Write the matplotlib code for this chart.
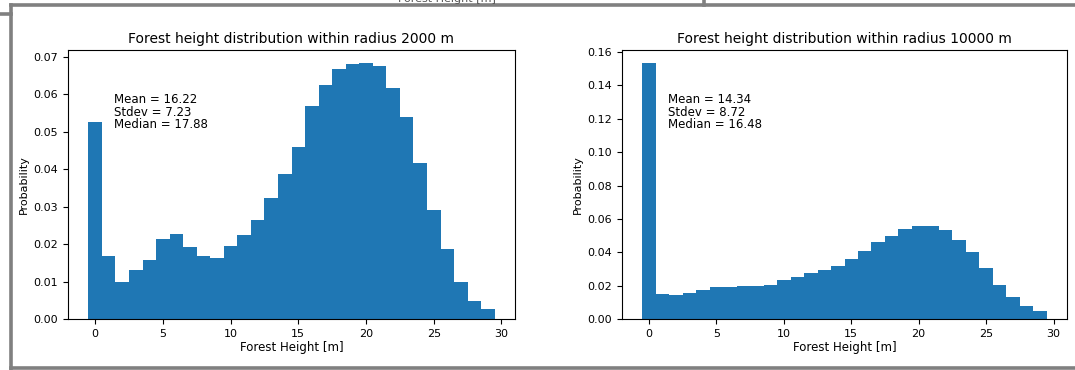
import numpy as np
import matplotlib
matplotlib.use("Agg")
import matplotlib.pyplot as plt
from matplotlib.lines import Line2D

# bin edges shared by both histograms (1 m bins, -0.5 .. 29.5)
bin_edges = np.arange(-0.5, 30.0, 1.0)
bin_centers = np.arange(0, 30)

# probability per bin
prob_2000 = [0.0527, 0.0167, 0.0100, 0.0131, 0.0158, 0.0214, 0.0227, 0.0192, 0.0167, 0.0163,
             0.0195, 0.0225, 0.0265, 0.0324, 0.0386, 0.0458, 0.0568, 0.0625, 0.0667, 0.0681,
             0.0684, 0.0675, 0.0617, 0.0540, 0.0416, 0.0291, 0.0187, 0.0098, 0.0049, 0.0027]
prob_10000 = [0.1536, 0.0152, 0.0146, 0.0156, 0.0176, 0.0192, 0.0192, 0.0196, 0.0200, 0.0206,
              0.0232, 0.0252, 0.0276, 0.0296, 0.0316, 0.0360, 0.0406, 0.0460, 0.0500, 0.0540,
              0.0560, 0.0556, 0.0536, 0.0476, 0.0400, 0.0304, 0.0206, 0.0132, 0.0080, 0.0046]

titles = ["Forest height distribution within radius 2000 m",
          "Forest height distribution within radius 10000 m"]
stats_text = ["Mean = 16.22\nStdev = 7.23\nMedian = 17.88",
              "Mean = 14.34\nStdev = 8.72\nMedian = 16.48"]

W, H = 1075, 370
fig = plt.figure(figsize=(W / 100, H / 100), dpi=100)

def px_axes(x0, y0, x1, y1):
    # pixel box (top-left origin) -> figure fraction
    return fig.add_axes([x0 / W, 1 - y1 / H, (x1 - x0) / W, (y1 - y0) / H])

ax1 = px_axes(68, 50, 515, 319)
ax2 = px_axes(622, 50, 1067, 319)

for ax, probs, title, txt in zip([ax1, ax2], [prob_2000, prob_10000], titles, stats_text):
    # stepfilled -> one polygon, no white seams between bins
    ax.hist(bin_centers, bins=bin_edges, weights=probs, histtype="stepfilled",
            color="#1f77b4", linewidth=0)
    ax.set_title(title, fontsize=10, pad=5)
    ax.set_xlabel("Forest Height [m]", fontsize=8.5, labelpad=2)
    ax.set_ylabel("Probability", fontsize=8, labelpad=3)
    ax.set_xticks([0, 5, 10, 15, 20, 25, 30])
    ax.tick_params(labelsize=8, length=3.5)
    ax.text(0.104, 0.84, txt, transform=ax.transAxes, va="top", ha="left",
            fontsize=8.5, linespacing=0.95)

# screenshot frame lines
gray = "#808080"
def frame_line(xs, ys):
    fig.add_artist(Line2D([x / W for x in xs], [1 - y / H for y in ys],
                          color=gray, linewidth=2.6, transform=fig.transFigure))

frame_line([11, W], [5, 5])
frame_line([11, 11], [5, H])
frame_line([0, 11], [14, 14])
frame_line([11, W], [368, 368])
frame_line([704, 704], [0, 5])

# cut-off label from the figure above (only its lower edge shows in the screenshot)
fig.text(398 / W, 1 + 1 / H, "Forest Height [m]", fontsize=8, color="#555555",
         ha="left", va="center")

fig.savefig("out.png", dpi=100)
